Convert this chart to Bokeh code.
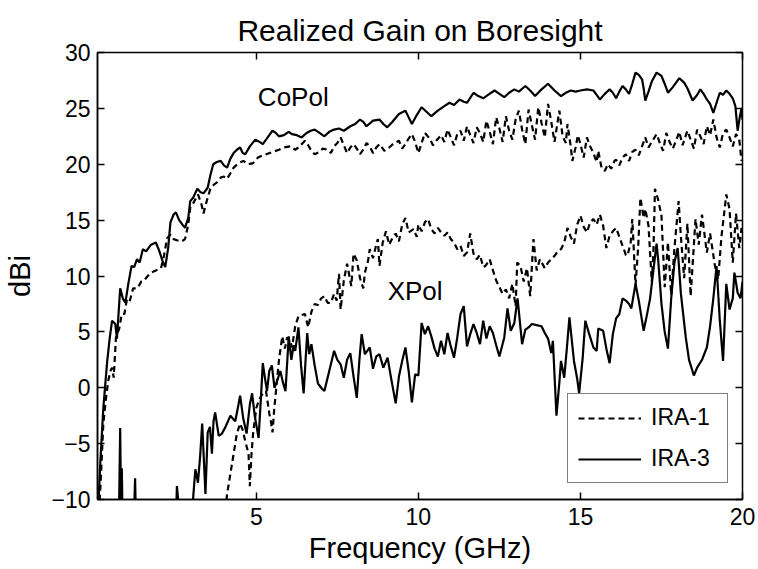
from bokeh.plotting import figure
from bokeh.models import (ColumnDataSource, Range1d, FixedTicker, LinearAxis, Legend,
                          LegendItem, Label, Title)
from bokeh.embed import file_html
from bokeh.resources import INLINE

# ---------------- data ----------------
copol_ira3_f = [0.12, 0.19, 0.28, 0.40, 0.48, 0.55, 0.65, 0.70, 0.80, 0.88, 0.96, 1.05, 1.15, 1.23, 1.32, 1.40,
                1.50, 1.60, 1.75, 1.90, 2.00, 2.10, 2.19, 2.28, 2.35, 2.45, 2.52, 2.62, 2.72, 2.80, 2.90, 2.96,
                3.05, 3.18, 3.28, 3.37, 3.50, 3.58, 3.67, 3.78, 3.90, 4.00, 4.10, 4.20, 4.30, 4.40, 4.50, 4.58,
                4.66, 4.80, 4.97, 5.10, 5.20, 5.35, 5.50, 5.60, 5.70, 5.85, 6.00, 6.10, 6.25, 6.40, 6.55, 6.68,
                6.80, 6.95, 7.10, 7.25, 7.40, 7.55, 7.70, 7.90, 8.05, 8.20, 8.30, 8.40, 8.60, 8.80, 8.92, 9.04,
                9.20, 9.40, 9.60, 9.80, 9.95, 10.10, 10.25, 10.40, 10.60, 10.80, 10.96, 11.10, 11.27, 11.40, 11.50, 11.70,
                11.85, 12.00, 12.15, 12.35, 12.50, 12.65, 12.80, 12.96, 13.10, 13.30, 13.45, 13.60, 13.80, 14.00, 14.20, 14.40,
                14.55, 14.70, 14.85, 15.00, 15.20, 15.40, 15.50, 15.60, 15.75, 15.90, 16.00, 16.10, 16.20, 16.30, 16.40, 16.50,
                16.60, 16.70, 16.80, 16.90, 16.95, 17.00, 17.10, 17.20, 17.35, 17.50, 17.60, 17.70, 17.85, 18.05, 18.20, 18.30,
                18.46, 18.60, 18.70, 18.80, 18.90, 19.00, 19.10, 19.20, 19.30, 19.40, 19.50, 19.60, 19.70, 19.78, 19.85, 19.92,
                19.97, 20.00]
copol_ira3_g = [-11.0, -6.5, -1.8, 2.4, 4.5, 6.0, 5.7, 4.4, 8.9, 8.0, 7.6, 9.3, 10.9, 10.8, 11.5, 11.2,
                12.4, 12.2, 12.8, 13.0, 12.3, 11.4, 10.8, 12.5, 14.8, 15.5, 15.7, 15.0, 14.6, 14.3, 15.2, 16.7,
                17.0, 17.8, 17.5, 17.4, 17.9, 19.0, 20.0, 20.2, 20.3, 19.9, 19.7, 20.5, 21.0, 21.3, 21.5, 21.0,
                20.9, 21.6, 22.2, 22.0, 21.8, 22.4, 23.0, 22.8, 22.5, 22.6, 22.9, 22.7, 22.6, 22.4, 22.8, 23.0,
                23.1, 22.8, 22.5, 22.9, 23.1, 23.2, 23.0, 23.4, 23.6, 24.0, 23.8, 23.4, 23.9, 24.0, 23.6, 23.3,
                23.8, 24.5, 24.8, 23.6, 24.4, 25.1, 24.7, 24.3, 24.8, 25.2, 25.5, 25.3, 25.8, 25.6, 25.5, 26.4,
                26.1, 25.9, 26.2, 26.6, 26.3, 26.0, 26.4, 26.7, 26.5, 27.0, 26.6, 26.1, 26.7, 27.2, 26.6, 26.1,
                26.4, 26.6, 26.5, 26.6, 26.7, 26.6, 26.2, 25.8, 26.3, 26.7, 26.4, 25.9, 26.5, 27.0, 26.7, 26.3,
                27.2, 28.2, 28.0, 27.6, 26.8, 25.7, 26.5, 27.4, 28.2, 27.9, 27.2, 26.4, 26.9, 27.7, 27.3, 26.8,
                25.7, 26.2, 26.7, 26.3, 25.8, 25.4, 24.6, 25.5, 26.4, 26.2, 26.6, 26.3, 25.9, 25.2, 23.0, 24.3,
                25.0, 24.0]

copol_ira1_f = [0.15, 0.20, 0.28, 0.36, 0.43, 0.50, 0.55, 0.60, 0.67, 0.77, 0.85, 0.93, 1.00, 1.08, 1.20, 1.33,
                1.45, 1.54, 1.65, 1.75, 1.90, 2.06, 2.15, 2.25, 2.35, 2.45, 2.55, 2.70, 2.80, 2.90, 2.96, 3.05,
                3.20, 3.30, 3.37, 3.45, 3.58, 3.70, 3.80, 3.90, 4.00, 4.10, 4.20, 4.30, 4.45, 4.60, 4.75, 4.90,
                5.05, 5.20, 5.30, 5.50, 5.70, 5.85, 6.05, 6.20, 6.30, 6.40, 6.50, 6.60, 6.70, 6.80, 6.95, 7.05,
                7.20, 7.30, 7.40, 7.50, 7.60, 7.70, 7.80, 7.90, 8.00, 8.10, 8.20, 8.30, 8.40, 8.50, 8.60, 8.70,
                8.80, 8.95, 9.10, 9.25, 9.40, 9.50, 9.60, 9.70, 9.80, 9.90, 10.00, 10.10, 10.20, 10.35, 10.45, 10.55,
                10.70, 10.80, 10.90, 11.00, 11.10, 11.20, 11.30, 11.40, 11.50, 11.60, 11.70, 11.80, 11.90, 12.00, 12.10, 12.20,
                12.30, 12.40, 12.50, 12.60, 12.70, 12.80, 12.90, 13.00, 13.10, 13.20, 13.30, 13.40, 13.50, 13.60, 13.70, 13.80,
                13.90, 14.00, 14.10, 14.20, 14.35, 14.45, 14.55, 14.60, 14.70, 14.75, 14.85, 14.92, 15.00, 15.10, 15.20, 15.30,
                15.40, 15.50, 15.55, 15.65, 15.75, 15.85, 15.95, 16.05, 16.10, 16.20, 16.30, 16.40, 16.50, 16.60, 16.70, 16.80,
                16.90, 17.00, 17.10, 17.20, 17.35, 17.45, 17.55, 17.65, 17.75, 17.85, 17.95, 18.05, 18.15, 18.30, 18.40, 18.50,
                18.60, 18.70, 18.80, 18.90, 19.00, 19.10, 19.20, 19.30, 19.40, 19.50, 19.60, 19.70, 19.80, 19.90, 19.97]
copol_ira1_g = [-11.0, -8.3, -3.2, -1.0, 0.6, 1.5, 1.8, 0.9, 4.5, 5.3, 6.6, 6.6, 7.8, 7.6, 8.9, 8.9,
                9.5, 9.6, 10.0, 10.3, 10.5, 10.7, 11.8, 13.4, 13.7, 13.3, 13.2, 13.1, 13.3, 14.6, 16.1, 16.5,
                17.3, 16.5, 15.6, 16.5, 17.8, 18.2, 18.4, 18.8, 18.9, 18.7, 19.2, 19.7, 20.1, 20.3, 20.0, 20.1,
                20.6, 20.8, 20.9, 21.1, 21.3, 21.5, 21.6, 21.3, 21.5, 21.8, 22.1, 21.7, 21.2, 20.9, 21.1, 21.4,
                21.3, 21.0, 21.6, 21.9, 22.4, 21.7, 21.0, 21.5, 21.8, 21.4, 20.9, 21.3, 21.9, 21.6, 21.0, 21.5,
                21.8, 21.2, 21.5, 21.9, 22.1, 21.4, 21.8, 22.3, 22.7, 22.0, 21.0, 21.9, 22.8, 22.3, 21.7, 22.1,
                22.6, 22.0, 23.1, 22.4, 21.7, 22.7, 23.0, 22.1, 23.4, 22.6, 21.9, 23.3, 22.8, 22.0, 23.9, 22.9,
                21.8, 24.2, 23.2, 22.0, 24.3, 23.0, 22.2, 24.0, 24.8, 23.1, 21.8, 24.9, 23.5, 22.2, 25.1, 23.7,
                22.4, 25.4, 23.8, 22.0, 24.8, 22.5, 21.9, 23.6, 21.6, 20.3, 21.5, 22.6, 21.8, 20.6, 22.4, 21.6,
                21.0, 20.2, 21.2, 19.7, 19.4, 20.0, 19.6, 20.3, 20.4, 19.9, 20.6, 20.9, 20.3, 21.1, 21.3, 20.8,
                21.6, 22.4, 21.5, 22.0, 22.7, 21.9, 21.2, 22.8, 22.0, 21.4, 22.1, 22.9, 21.7, 23.0, 22.2, 21.4,
                23.1, 22.5, 21.8, 23.4, 22.6, 24.0, 22.4, 21.5, 22.8, 23.1, 22.4, 21.6, 22.7, 22.2, 20.3]

xpol_ira1_f = [0.10, 2.00, 3.95, 4.10, 4.20, 4.30, 4.40, 4.50, 4.58, 4.66, 4.76, 4.80, 4.85, 4.90, 5.00, 5.10,
               5.20, 5.30, 5.40, 5.45, 5.50, 5.55, 5.60, 5.70, 5.80, 5.88, 5.95, 6.05, 6.10, 6.20, 6.30, 6.40,
               6.50, 6.60, 6.70, 6.80, 6.90, 7.00, 7.10, 7.20, 7.30, 7.40, 7.48, 7.55, 7.60, 7.70, 7.80, 7.93,
               8.00, 8.10, 8.20, 8.30, 8.35, 8.45, 8.50, 8.60, 8.70, 8.75, 8.80, 8.90, 9.00, 9.10, 9.20, 9.30,
               9.40, 9.50, 9.60, 9.70, 9.85, 9.95, 10.00, 10.10, 10.20, 10.30, 10.40, 10.50, 10.60, 10.70, 10.80, 10.90,
               11.00, 11.10, 11.20, 11.30, 11.40, 11.50, 11.60, 11.70, 11.80, 11.90, 12.00, 12.07, 12.20, 12.30, 12.40, 12.50,
               12.60, 12.70, 12.80, 12.90, 13.00, 13.05, 13.15, 13.25, 13.35, 13.45, 13.55, 13.65, 13.75, 13.90, 14.00, 14.10,
               14.20, 14.30, 14.40, 14.50, 14.60, 14.70, 14.80, 14.90, 15.00, 15.10, 15.20, 15.30, 15.40, 15.50, 15.60, 15.70,
               15.80, 15.90, 16.00, 16.10, 16.20, 16.30, 16.40, 16.45, 16.55, 16.60, 16.70, 16.78, 16.85, 16.95, 17.00, 17.10,
               17.20, 17.25, 17.30, 17.40, 17.50, 17.60, 17.70, 17.80, 17.90, 18.03, 18.10, 18.20, 18.30, 18.40, 18.55, 18.65,
               18.75, 18.90, 19.00, 19.15, 19.25, 19.35, 19.50, 19.60, 19.70, 19.80, 19.90, 19.97]
xpol_ira1_g = [-18.0, -16.0, -13.0, -9.5, -7.7, -5.9, -4.1, -3.2, -3.8, -4.8, -5.9, -8.8, -6.0, -4.1, -1.8, -1.0,
               -0.5, -0.3, -2.3, -3.0, -4.0, -2.0, -0.5, 2.5, 4.6, 3.5, 4.5, 4.2, 3.6, 5.5, 6.4, 6.5,
               6.6, 5.4, 6.8, 7.5, 7.4, 8.0, 8.2, 7.6, 7.6, 8.4, 7.8, 10.2, 7.0, 9.6, 11.1, 9.1,
               12.0, 11.4, 9.8, 8.9, 10.3, 11.4, 12.4, 11.6, 12.8, 13.3, 10.9, 13.0, 14.0, 12.8, 13.4, 13.8,
               13.1, 14.6, 15.2, 13.9, 14.2, 13.5, 14.6, 14.0, 14.8, 15.1, 14.2, 13.8, 14.3, 13.9, 13.6, 13.9,
               13.3, 13.0, 12.4, 12.7, 11.8, 12.1, 13.8, 12.0, 11.5, 11.9, 10.8, 10.9, 11.5, 10.5, 9.6, 9.0,
               8.4, 8.8, 8.0, 9.3, 7.3, 11.2, 10.9, 9.5, 10.7, 8.2, 13.3, 10.5, 11.5, 10.7, 11.2, 11.5,
               11.8, 12.2, 12.4, 13.0, 14.3, 13.5, 12.9, 14.6, 15.4, 14.4, 13.9, 14.8, 15.1, 14.6, 15.5, 14.5,
               12.5, 13.6, 14.0, 14.3, 13.5, 12.7, 11.9, 11.8, 13.0, 15.1, 9.2, 12.5, 17.0, 15.2, 16.0, 14.5,
               9.5, 12.0, 17.8, 16.8, 15.4, 9.0, 13.0, 8.3, 12.5, 16.7, 13.5, 9.8, 14.7, 8.2, 15.1, 12.8,
               15.5, 12.1, 13.8, 10.9, 9.7, 13.5, 17.3, 16.0, 11.2, 15.6, 12.5, 14.3]

xpol_ira3_f = [0.10, 0.75, 0.80, 0.83, 0.85, 0.88, 1.20, 1.26, 1.30, 2.50, 2.55, 2.62, 2.70, 3.00, 3.06, 3.12,
               3.20, 3.27, 3.33, 3.43, 3.50, 3.57, 3.63, 3.68, 3.73, 3.84, 3.94, 4.05, 4.20, 4.35, 4.45, 4.50,
               4.60, 4.70, 4.80, 4.87, 4.95, 5.07, 5.15, 5.20, 5.27, 5.33, 5.40, 5.48, 5.56, 5.64, 5.74, 5.82,
               5.90, 6.00, 6.08, 6.15, 6.20, 6.30, 6.38, 6.46, 6.52, 6.57, 6.63, 6.70, 6.80, 6.90, 7.00, 7.10,
               7.25, 7.40, 7.50, 7.60, 7.70, 7.80, 7.90, 8.00, 8.10, 8.18, 8.25, 8.35, 8.50, 8.60, 8.70, 8.80,
               8.92, 9.05, 9.15, 9.30, 9.40, 9.50, 9.60, 9.70, 9.80, 9.90, 10.00, 10.10, 10.20, 10.30, 10.40, 10.50,
               10.60, 10.70, 10.80, 10.90, 11.00, 11.10, 11.20, 11.30, 11.40, 11.50, 11.60, 11.70, 11.80, 11.90, 12.00, 12.10,
               12.20, 12.30, 12.40, 12.50, 12.65, 12.75, 12.85, 12.96, 13.06, 13.20, 13.30, 13.40, 13.50, 13.65, 13.80, 13.90,
               14.00, 14.10, 14.15, 14.26, 14.35, 14.40, 14.50, 14.58, 14.66, 14.80, 14.90, 14.96, 15.07, 15.15, 15.25, 15.40,
               15.50, 15.55, 15.70, 15.80, 15.90, 16.00, 16.10, 16.20, 16.30, 16.40, 16.50, 16.57, 16.70, 16.80, 16.95, 17.05,
               17.15, 17.25, 17.35, 17.40, 17.50, 17.60, 17.70, 17.80, 17.90, 18.00, 18.10, 18.25, 18.35, 18.50, 18.60, 18.75,
               18.90, 19.00, 19.10, 19.20, 19.30, 19.40, 19.50, 19.60, 19.70, 19.75, 19.85, 19.94, 20.00]
xpol_ira3_g = [-16.0, -14.0, -3.6, -12.0, -7.2, -13.0, -14.0, -8.1, -14.0, -14.0, -8.8, -11.0, -13.0, -12.0, -9.5, -7.3,
               -8.5, -6.0, -3.2, -9.5, -4.0, -3.5, -5.9, -3.0, -2.2, -4.3, -4.1, -3.5, -2.5, -3.0, -1.5, -0.7,
               -2.8, -4.1, -1.5, -0.5, -2.5, -4.5, -0.5, 2.2, 0.8, -0.3, 1.5, 2.0, 0.0, 0.6, 1.5, 0.5,
               -0.3, 4.6, 2.5, 3.8, 3.3, 5.4, 2.0, -0.5, 2.5, 4.9, 3.0, 3.9, 2.0, 0.4, 0.0, -0.3,
               1.5, 3.3, 2.5, 2.1, 0.9, 2.5, 3.1, 1.0, -0.9, 2.5, 4.8, 3.0, 3.6, 1.7, 2.8, 3.0,
               1.8, 2.7, 1.0, -1.4, 1.0, 2.4, 3.6, 1.5, -1.3, 1.2, 1.1, 5.8, 4.8, 5.5, 4.6, 3.5,
               2.8, 4.2, 3.0, 4.9, 3.7, 2.7, 4.5, 6.6, 7.3, 3.7, 4.8, 5.7, 4.9, 3.9, 6.0, 4.4,
               5.5, 4.9, 3.8, 2.8, 4.5, 7.1, 5.1, 5.8, 8.0, 3.9, 5.2, 5.4, 5.7, 5.6, 5.5, 4.9,
               4.4, 3.1, 4.2, -2.5, 0.5, 2.4, 0.9, 3.5, 6.3, 2.4, 0.8, -0.5, 2.7, 6.0, 5.0, 3.6,
               3.3, 5.3, 5.1, 3.5, 2.2, 4.8, 6.2, 6.6, 8.0, 7.8, 7.5, 7.1, 9.3, 7.8, 5.1, 6.5,
               8.0, 10.5, 12.9, 11.4, 7.5, 5.0, 3.5, 8.0, 11.2, 12.5, 8.4, 4.5, 2.5, 1.1, 1.8, 2.5,
               3.6, 5.5, 8.0, 10.9, 6.0, 2.4, 9.3, 7.0, 8.0, 10.3, 8.5, 8.0, 9.5]

legend_labels = ["IRA-1", "IRA-3"]
x_ticks = [5, 10, 15, 20]
y_ticks = [-10, -5, 0, 5, 10, 15, 20, 25, 30]

# ---------------- figure ----------------
FONT = "Liberation Sans"
p = figure(width=758, height=569, output_backend="svg", toolbar_location=None,
           x_range=Range1d(0.1, 20), y_range=Range1d(-10, 30),
           min_border_left=97, min_border_right=16, min_border_top=52, min_border_bottom=70,
           background_fill_color="white", border_fill_color="white")
p.title = Title(text="Realized Gain on Boresight", align="center", text_font=FONT,
                text_font_size="30px", text_font_style="normal", text_color="black", standoff=12)
p.grid.visible = False
p.outline_line_color = "black"
p.outline_line_width = 1.5
p.outline_line_alpha = 1.0

for ax in (p.xaxis[0], p.yaxis[0]):
    ax.axis_line_width = 1.5
    ax.axis_line_color = "black"
    ax.major_tick_in = 7
    ax.major_tick_out = 0
    ax.major_tick_line_width = 1.5
    ax.minor_tick_line_color = None
    ax.major_label_text_font = FONT
    ax.major_label_text_font_size = "23px"
    ax.major_label_text_color = "black"
    ax.axis_label_text_font = FONT
    ax.axis_label_text_font_size = "29px"
    ax.axis_label_text_font_style = "normal"
    ax.axis_label_text_color = "black"

p.xaxis[0].ticker = FixedTicker(ticks=x_ticks)
p.yaxis[0].ticker = FixedTicker(ticks=y_ticks)
p.xaxis[0].axis_label = "Frequency (GHz)"
p.yaxis[0].axis_label = "dBi"
p.xaxis[0].major_label_standoff = 8
p.yaxis[0].major_label_standoff = 7
p.xaxis[0].axis_label_standoff = 4
p.yaxis[0].axis_label_standoff = 12

# mirrored tick marks on top and right (MATLAB box style)
top_ax = LinearAxis(ticker=FixedTicker(ticks=x_ticks), axis_line_color=None,
                    major_tick_in=7, major_tick_out=0, major_tick_line_width=1.5,
                    minor_tick_line_color=None, major_label_text_font_size="1px",
                    major_label_text_alpha=0)
right_ax = LinearAxis(ticker=FixedTicker(ticks=y_ticks), axis_line_color=None,
                      major_tick_in=7, major_tick_out=0, major_tick_line_width=1.5,
                      minor_tick_line_color=None, major_label_text_font_size="1px",
                      major_label_text_alpha=0)
p.add_layout(top_ax, "above")
p.add_layout(right_ax, "right")

DASH = "6 4"
s_c1 = ColumnDataSource(dict(f=copol_ira1_f, g=copol_ira1_g))
s_c3 = ColumnDataSource(dict(f=copol_ira3_f, g=copol_ira3_g))
s_x1 = ColumnDataSource(dict(f=xpol_ira1_f, g=xpol_ira1_g))
s_x3 = ColumnDataSource(dict(f=xpol_ira3_f, g=xpol_ira3_g))

r_x3 = p.line("f", "g", source=s_x3, line_color="black", line_width=2.2)
r_x1 = p.line("f", "g", source=s_x1, line_color="black", line_width=2.2, line_dash=DASH)
r_c3 = p.line("f", "g", source=s_c3, line_color="black", line_width=2.2)
r_c1 = p.line("f", "g", source=s_c1, line_color="black", line_width=2.2, line_dash=DASH)

p.add_layout(Label(x=6.14, y=26.0, text="CoPol", text_font=FONT, text_font_size="26px",
                   text_align="center", text_baseline="middle", text_color="black"))
p.add_layout(Label(x=9.9, y=8.7, text="XPol", text_font=FONT, text_font_size="26px",
                   text_align="center", text_baseline="middle", text_color="black"))

legend = Legend(items=[LegendItem(label=legend_labels[0], renderers=[r_c1]),
                       LegendItem(label=legend_labels[1], renderers=[r_c3])],
                location=(470, 16), orientation="vertical",
                label_text_font=FONT, label_text_font_size="23px", label_text_color="black",
                glyph_width=63, glyph_height=26, label_height=26, label_width=66, label_standoff=10,
                spacing=14, padding=10, margin=0,
                border_line_color="black", border_line_width=1.5,
                background_fill_color="white", background_fill_alpha=1.0)
p.add_layout(legend, "center")

open("out.html", "w").write(file_html(p, INLINE))
